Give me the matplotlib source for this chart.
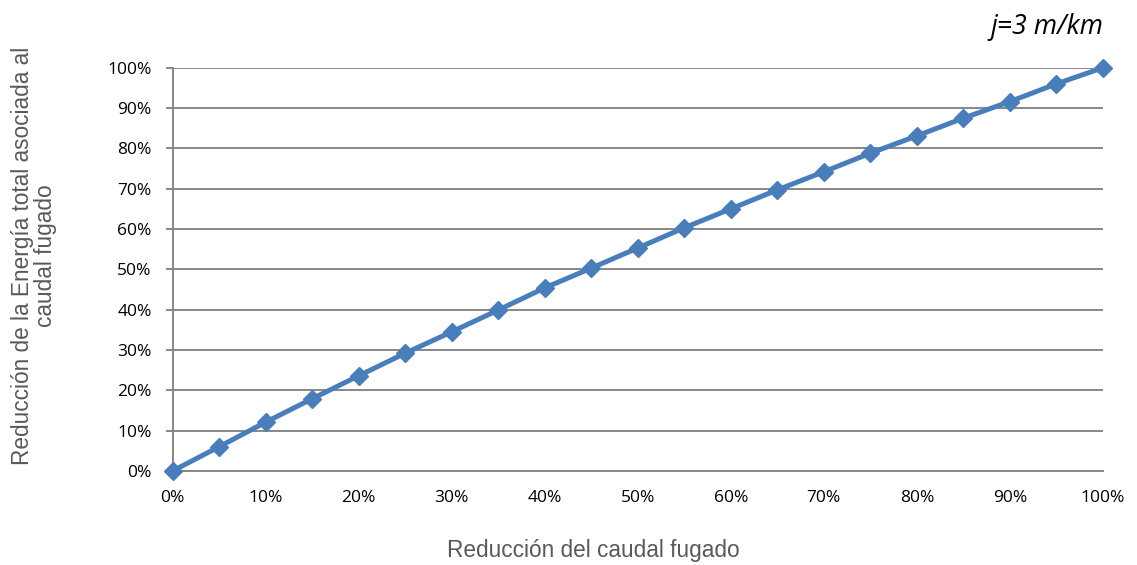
import matplotlib
matplotlib.use("Agg")
import matplotlib.pyplot as plt
from matplotlib.ticker import PercentFormatter, MultipleLocator

# Leak-flow reduction (fraction) vs reduction of total energy associated with it (fraction)
caudal_reduccion = [0.00, 0.05, 0.10, 0.15, 0.20, 0.25, 0.30, 0.35, 0.40, 0.45, 0.50,
                    0.55, 0.60, 0.65, 0.70, 0.75, 0.80, 0.85, 0.90, 0.95, 1.00]
energia_reduccion = [0.000, 0.060, 0.121, 0.179, 0.236, 0.292, 0.345, 0.399, 0.454, 0.503, 0.553,
                     0.603, 0.650, 0.697, 0.742, 0.788, 0.831, 0.875, 0.916, 0.960, 1.000]

titulo = "j=3 m/km"
etiqueta_x = "Reducción del caudal fugado"
etiqueta_y = "Reducción de la Energía total asociada al\ncaudal fugado"

W, H = 1137, 565
fig = plt.figure(figsize=(W / 100, H / 100), dpi=100)
ax = fig.add_axes([172.5 / W, 1 - 471 / H, (1103 - 172.5) / W, (471 - 67.7) / H])

grid_color = "#878787"
line_color = "#4A7EBB"
tick_font = ["Open Sans", "DejaVu Sans"]
label_font = ["Liberation Sans", "DejaVu Sans"]

ax.plot(caudal_reduccion, energia_reduccion, color=line_color, lw=3.6,
        marker="D", markersize=9.5, markeredgecolor=line_color, markerfacecolor=line_color,
        clip_on=False, zorder=3)

ax.set_xlim(0, 1)
ax.set_ylim(0, 1)
ax.xaxis.set_major_locator(MultipleLocator(0.1))
ax.yaxis.set_major_locator(MultipleLocator(0.1))
ax.xaxis.set_major_formatter(PercentFormatter(1.0, decimals=0))
ax.yaxis.set_major_formatter(PercentFormatter(1.0, decimals=0))

ax.grid(axis="y", color=grid_color, lw=1.4)
ax.set_axisbelow(True)
for side in ("top", "right"):
    ax.spines[side].set_visible(False)
for side in ("left", "bottom"):
    ax.spines[side].set_color(grid_color)
    ax.spines[side].set_linewidth(1.4)

ax.tick_params(axis="y", length=5, width=1.4, color=grid_color, pad=10, labelsize=12.5)
ax.tick_params(axis="x", length=0, pad=14, labelsize=12.5)
for lab in ax.get_xticklabels() + ax.get_yticklabels():
    lab.set_family(tick_font)
    lab.set_color("#000000")

fig.text(593 / W, 1 - 550 / H, etiqueta_x, ha="center", va="center",
         fontsize=16.3, color="#595959", family=label_font)
fig.text(34 / W, 1 - 256 / H, etiqueta_y, ha="center", va="center", rotation=90,
         fontsize=16.3, color="#595959", family=label_font, linespacing=1.0)
fig.text(1103 / W, 1 - 27 / H, titulo, ha="right", va="center",
         fontsize=19.3, style="italic", color="#000000", family=tick_font)

fig.savefig("out.png", dpi=100, facecolor="white")
